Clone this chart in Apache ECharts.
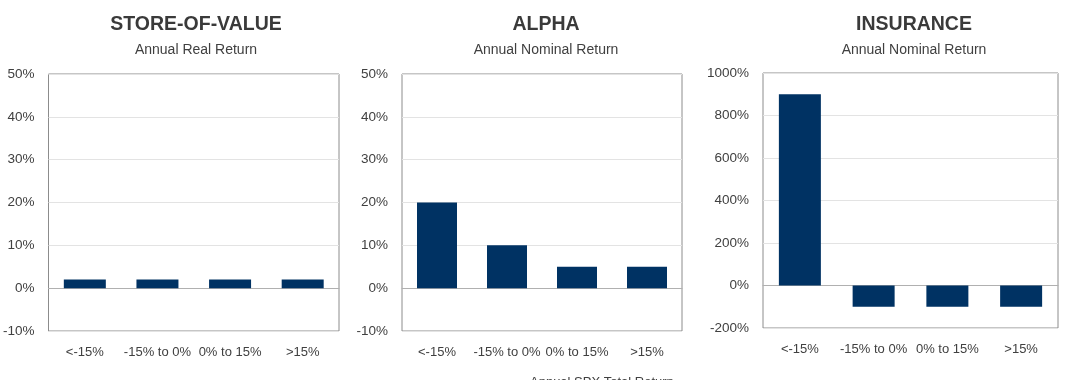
<!DOCTYPE html>
<html><head><meta charset="utf-8">
<script src="https://cdn.jsdelivr.net/npm/echarts@6/dist/echarts.min.js"></script>
<style>html,body{margin:0;padding:0;background:#fff}#c{width:1080px;height:380px}</style>
</head><body><div id="c"></div>
<script>
const categories = ['<-15%', '-15% to 0%', '0% to 15%', '>15%'];
const titles = ['STORE-OF-VALUE', 'ALPHA', 'INSURANCE'];
const subtitles = ['Annual Real Return', 'Annual Nominal Return', 'Annual Nominal Return'];
const storeValues = [2, 2, 2, 2];
const alphaValues = [20, 10, 5, 5];
const insuranceValues = [900, -100, -100, -100];
const yMin = [-10, -10, -200];
const yMax = [50, 50, 1000];
const yStep = [10, 10, 200];
const xAxisTitle = 'Annual SPX Total Return';

const FONT = '"Liberation Sans", Arial, sans-serif';
const series = [storeValues, alphaValues, insuranceValues];
const grids = [
  {left: 45, width: 294, top: 74, height: 257},
  {left: 402, width: 280, top: 74, height: 257},
  {left: 763, width: 295, top: 73, height: 255}
];
const centers = [191, 541, 909];
const chart = echarts.init(document.getElementById('c'));
const option = {
  animation: false,
  title: titles.map((t, i) => ({
    text: t, subtext: subtitles[i], left: centers[i], top: 10, textAlign: 'center', itemGap: 8,
    textStyle: {fontFamily: FONT, fontSize: 19.5, fontWeight: 'bold', color: '#3a3a3a'},
    subtextStyle: {fontFamily: FONT, fontSize: 14, color: '#404040'}
  })),
  grid: grids.map(g => Object.assign({show: true, borderColor: '#8c8c8c', borderWidth: 1, backgroundColor: '#fff'}, g)),
  xAxis: grids.map((g, i) => ({
    type: 'category', gridIndex: i, data: categories,
    axisLine: {onZero: true, lineStyle: {color: '#b0b0b0'}},
    axisTick: {show: false},
    axisLabel: {fontFamily: FONT, fontSize: 13, color: '#404040', margin: 15, interval: 0}
  })),
  yAxis: grids.map((g, i) => ({
    type: 'value', gridIndex: i, min: yMin[i], max: yMax[i], interval: yStep[i],
    axisLine: {show: false}, axisTick: {show: false},
    splitLine: {lineStyle: {color: '#e3e3e3'}},
    axisLabel: {fontFamily: FONT, fontSize: 13.5, color: '#404040', margin: 14, formatter: v => v + '%'}
  })),
  series: series.map((d, i) => ({
    type: 'bar', xAxisIndex: i, yAxisIndex: i, data: d, barWidth: i === 1 ? 40 : 42,
    itemStyle: {color: '#003263'}
  })),
  graphic: [{
    type: 'text', left: 530, top: 376,
    style: {text: xAxisTitle, fontFamily: FONT, fontSize: 13, fill: '#404040', textAlign: 'center'}
  }]
};
chart.setOption(option);
</script>
</body></html>
